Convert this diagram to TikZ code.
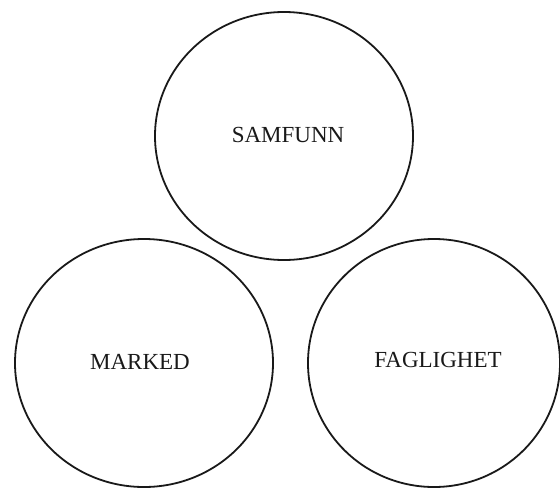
\documentclass[tikz,border=0pt]{standalone}
\usepackage{fontspec}
\setmainfont{Liberation Serif}
\usetikzlibrary{shapes.geometric}
\begin{document}
\begin{tikzpicture}[x=1pt,y=-1pt,
  circ/.style={draw=black!90,line width=1.8pt,ellipse,inner sep=0pt},
  lbl/.style={font=\fontsize{23}{27}\selectfont,text=black!90}]
\useasboundingbox (0,0) rectangle (560,488);
\node[circ,minimum width=258pt,minimum height=248pt] (samfunn) at (284,136) {};
\node[circ,minimum width=258pt,minimum height=248pt] (marked) at (144,363) {};
\node[circ,minimum width=252pt,minimum height=248pt] (faglighet) at (434,363) {};
\node[lbl] (t1) at (288,135) {SAMFUNN};
\node[lbl] (t2) at (140,362) {MARKED};
\node[lbl] (t3) at (438,360) {FAGLIGHET};
\end{tikzpicture}
\end{document}
